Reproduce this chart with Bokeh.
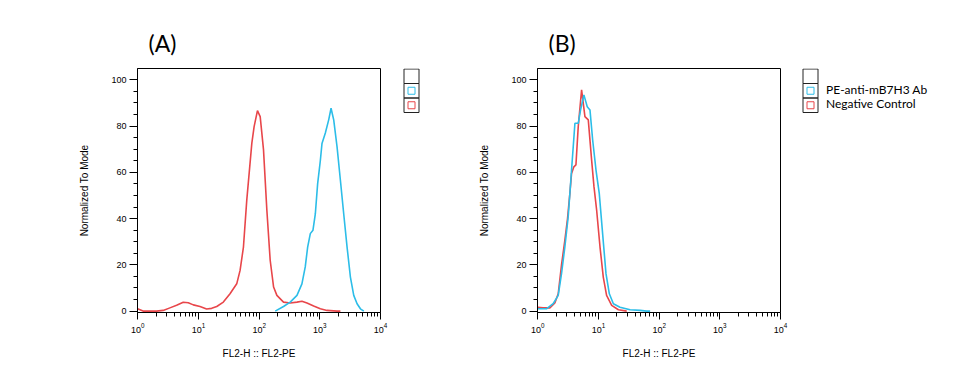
from bokeh.plotting import figure
from bokeh.layouts import row
from bokeh.models import Range1d, FixedTicker, SingleIntervalTicker
from bokeh.core.properties import value
from bokeh.embed import file_html
from bokeh.resources import INLINE

# ---------------- data ----------------
# Panel A : negative control (red) and stained sample (cyan)
a_red_x = [0.99, 1.22, 2.04, 2.62, 3.38, 4.36, 5.61, 6.79, 8.22, 10.6, 13.6, 16.5, 20.0,
           25.7, 33.1, 42.7, 48.5, 55.1, 62.5, 75.7, 82.6, 93.8, 104, 118, 134, 152, 173,
           196, 252, 325, 420, 507, 614, 791, 1019, 1312, 1923, 2183]
a_red_y = [1.0, 0.0, 0.0, 0.3, 1.4, 2.5, 3.8, 3.6, 2.7, 2.0, 0.9, 1.2, 2.0,
           3.9, 7.5, 11.8, 17.6, 27.7, 48.0, 72.5, 79.8, 86.7, 84.1, 69.7, 43.6, 22.0, 10.4,
           6.8, 3.9, 3.5, 3.9, 4.3, 3.5, 2.2, 1.0, 0.3, 0.0, 0.0]
a_cyan_x = [184, 252, 325, 420, 507, 575, 630, 697, 771, 843, 920, 1019, 1086, 1233,
            1400, 1531, 1694, 1923, 2183, 2477, 2812, 3192, 3622, 4111, 4667, 5309]
a_cyan_y = [0.0, 2.0, 3.9, 6.8, 11.8, 19.1, 27.7, 33.5, 35.0, 42.0, 55.0, 65.0, 72.5, 77.0,
            82.7, 87.7, 82.7, 71.0, 56.6, 42.0, 27.7, 14.7, 6.8, 3.2, 1.0, 0.0]

# Panel B : Negative Control (red) and PE-anti-mB7H3 Ab (cyan)
b_red_x = [0.99, 1.22, 1.58, 1.91, 2.17, 2.46, 2.79, 3.09, 3.38, 3.60, 3.93, 4.25, 4.64,
           5.27, 5.98, 6.79, 7.71, 8.43, 9.33, 10.6, 12.0, 13.6, 16.5, 21.3, 29.2]
b_red_y = [1.7, 1.4, 1.4, 3.5, 7.5, 20.0, 30.6, 40.0, 51.0, 59.5, 62.4, 63.2, 79.8,
           95.7, 84.1, 82.7, 65.3, 53.8, 43.6, 27.7, 14.7, 6.8, 2.5, 0.6, 0.0]
b_cyan_x = [0.99, 1.39, 1.79, 2.17, 2.46, 2.79, 3.17, 3.60, 4.09, 4.64, 5.07, 5.75, 6.53,
            7.24, 8.02, 9.10, 10.3, 11.7, 13.3, 15.1, 17.6, 22.6, 33.2, 48.5, 62.5, 71.0]
b_cyan_y = [1.0, 1.0, 3.2, 6.8, 16.2, 27.7, 40.8, 61.0, 81.2, 81.2, 87.0, 93.5, 88.4,
            87.0, 74.0, 61.0, 50.9, 33.5, 16.2, 7.5, 3.2, 1.7, 0.6, 0.3, 0.0, 0.0]

panel_titles = ["(A)", "(B)"]
legend_labels_a = ["", ""]
legend_labels_b = ["PE-anti-mB7H3 Ab", "Negative Control"]
x_major_ticks = [1, 10, 100, 1000, 10000]
y_major_interval = 20
x_axis_label = "FL2-H :: FL2-PE"
y_axis_label = "Normalized To Mode"

RED = "#e8464a"
CYAN = "#2cbde8"
AXIS_FONT = "Liberation Sans"
TEXT_FONT = "Lato"
H = 387
TOP = 68
FRAME_W = 243
FRAME_H = 244
BOTTOM = H - TOP - FRAME_H

x_minor_ticks = [m * d for d in x_major_ticks[:-1] for m in range(2, 10)]


def make_panel(red_x, red_y, cyan_x, cyan_y, title, width, left):
    p = figure(width=width, height=H, x_axis_type="log",
               x_range=Range1d(10 ** -0.005, 10 ** 4), y_range=Range1d(-0.6, 104.9),
               output_backend="svg", toolbar_location=None,
               min_border_left=left, min_border_right=width - left - FRAME_W,
               min_border_top=TOP, min_border_bottom=BOTTOM)
    p.background_fill_color = "white"
    p.border_fill_color = "white"
    p.outline_line_color = "black"
    p.outline_line_width = 1
    p.grid.visible = False

    p.line(red_x, red_y, line_color=RED, line_width=1.6)
    p.line(cyan_x, cyan_y, line_color=CYAN, line_width=1.6)

    p.xaxis.ticker = FixedTicker(ticks=x_major_ticks, minor_ticks=x_minor_ticks)
    p.yaxis.ticker = SingleIntervalTicker(interval=y_major_interval, num_minor_ticks=4)
    for ax in (p.xaxis[0], p.yaxis[0]):
        ax.axis_line_color = "black"
        ax.major_tick_line_color = "black"
        ax.minor_tick_line_color = "black"
        ax.major_tick_in = 0
        ax.minor_tick_in = 0
        ax.major_label_text_font = AXIS_FONT
        ax.major_label_text_font_size = "9px"
        ax.major_label_text_color = "black"
        ax.axis_label_text_font = AXIS_FONT
        ax.axis_label_text_font_size = "10px"
        ax.axis_label_text_font_style = "normal"
        ax.axis_label_text_color = "black"
    p.yaxis.major_tick_out = 8
    p.yaxis.minor_tick_out = 4
    p.xaxis.major_tick_out = 7
    p.xaxis.minor_tick_out = 4
    p.yaxis.major_label_standoff = 3
    p.xaxis.major_label_standoff = 3
    p.yaxis.axis_label = y_axis_label
    p.xaxis.axis_label = x_axis_label
    p.yaxis.axis_label_standoff = 18
    p.xaxis.axis_label_standoff = 12

    p.title.text = title
    p.title.text_font = TEXT_FONT
    p.title.text_font_size = "23px"
    p.title.text_font_style = "normal"
    p.title.text_color = "black"
    p.title.align = "left"
    p.title.offset = 11
    p.title.standoff = 24
    return p


def make_legend(width, box_left, labels):
    q = figure(width=width, height=H, x_range=Range1d(0, width),
               y_range=Range1d(TOP + FRAME_H, TOP),
               output_backend="svg", toolbar_location=None,
               x_axis_location=None, y_axis_location=None,
               min_border_left=0, min_border_right=0,
               min_border_top=TOP, min_border_bottom=BOTTOM)
    q.grid.visible = False
    q.outline_line_color = None
    q.background_fill_color = "white"
    q.border_fill_color = "white"
    cell_tops = [68.5, 83.0, 97.5]
    cell_h = 14.5
    q.quad(left=[box_left] * 3, right=[box_left + 15] * 3,
           top=cell_tops, bottom=[t + cell_h for t in cell_tops],
           fill_color=None, line_color="#222222", line_width=1)
    centers = [t + cell_h / 2 for t in cell_tops[1:]]
    q.quad(left=[box_left + 4] * 2, right=[box_left + 11] * 2,
           top=[c - 3.5 for c in centers], bottom=[c + 3.5 for c in centers],
           fill_color=None, line_color=[CYAN, RED], line_width=1)
    if any(labels):
        q.text(x=[box_left + 23] * 2, y=[c - 1.3 for c in centers], text=labels,
               text_font=value(TEXT_FONT), text_font_size="12px",
               text_baseline="alphabetic", text_color="black")
    return q


pa = make_panel(a_red_x, a_red_y, a_cyan_x, a_cyan_y, panel_titles[0], 390, 137)
la = make_legend(80, 13.5, legend_labels_a)
pb = make_panel(b_red_x, b_red_y, b_cyan_x, b_cyan_y, panel_titles[1], 320, 67)
lb = make_legend(184, 12.5, legend_labels_b)

layout = row(pa, la, pb, lb)
open("out.html", "w").write(file_html(layout, INLINE))
